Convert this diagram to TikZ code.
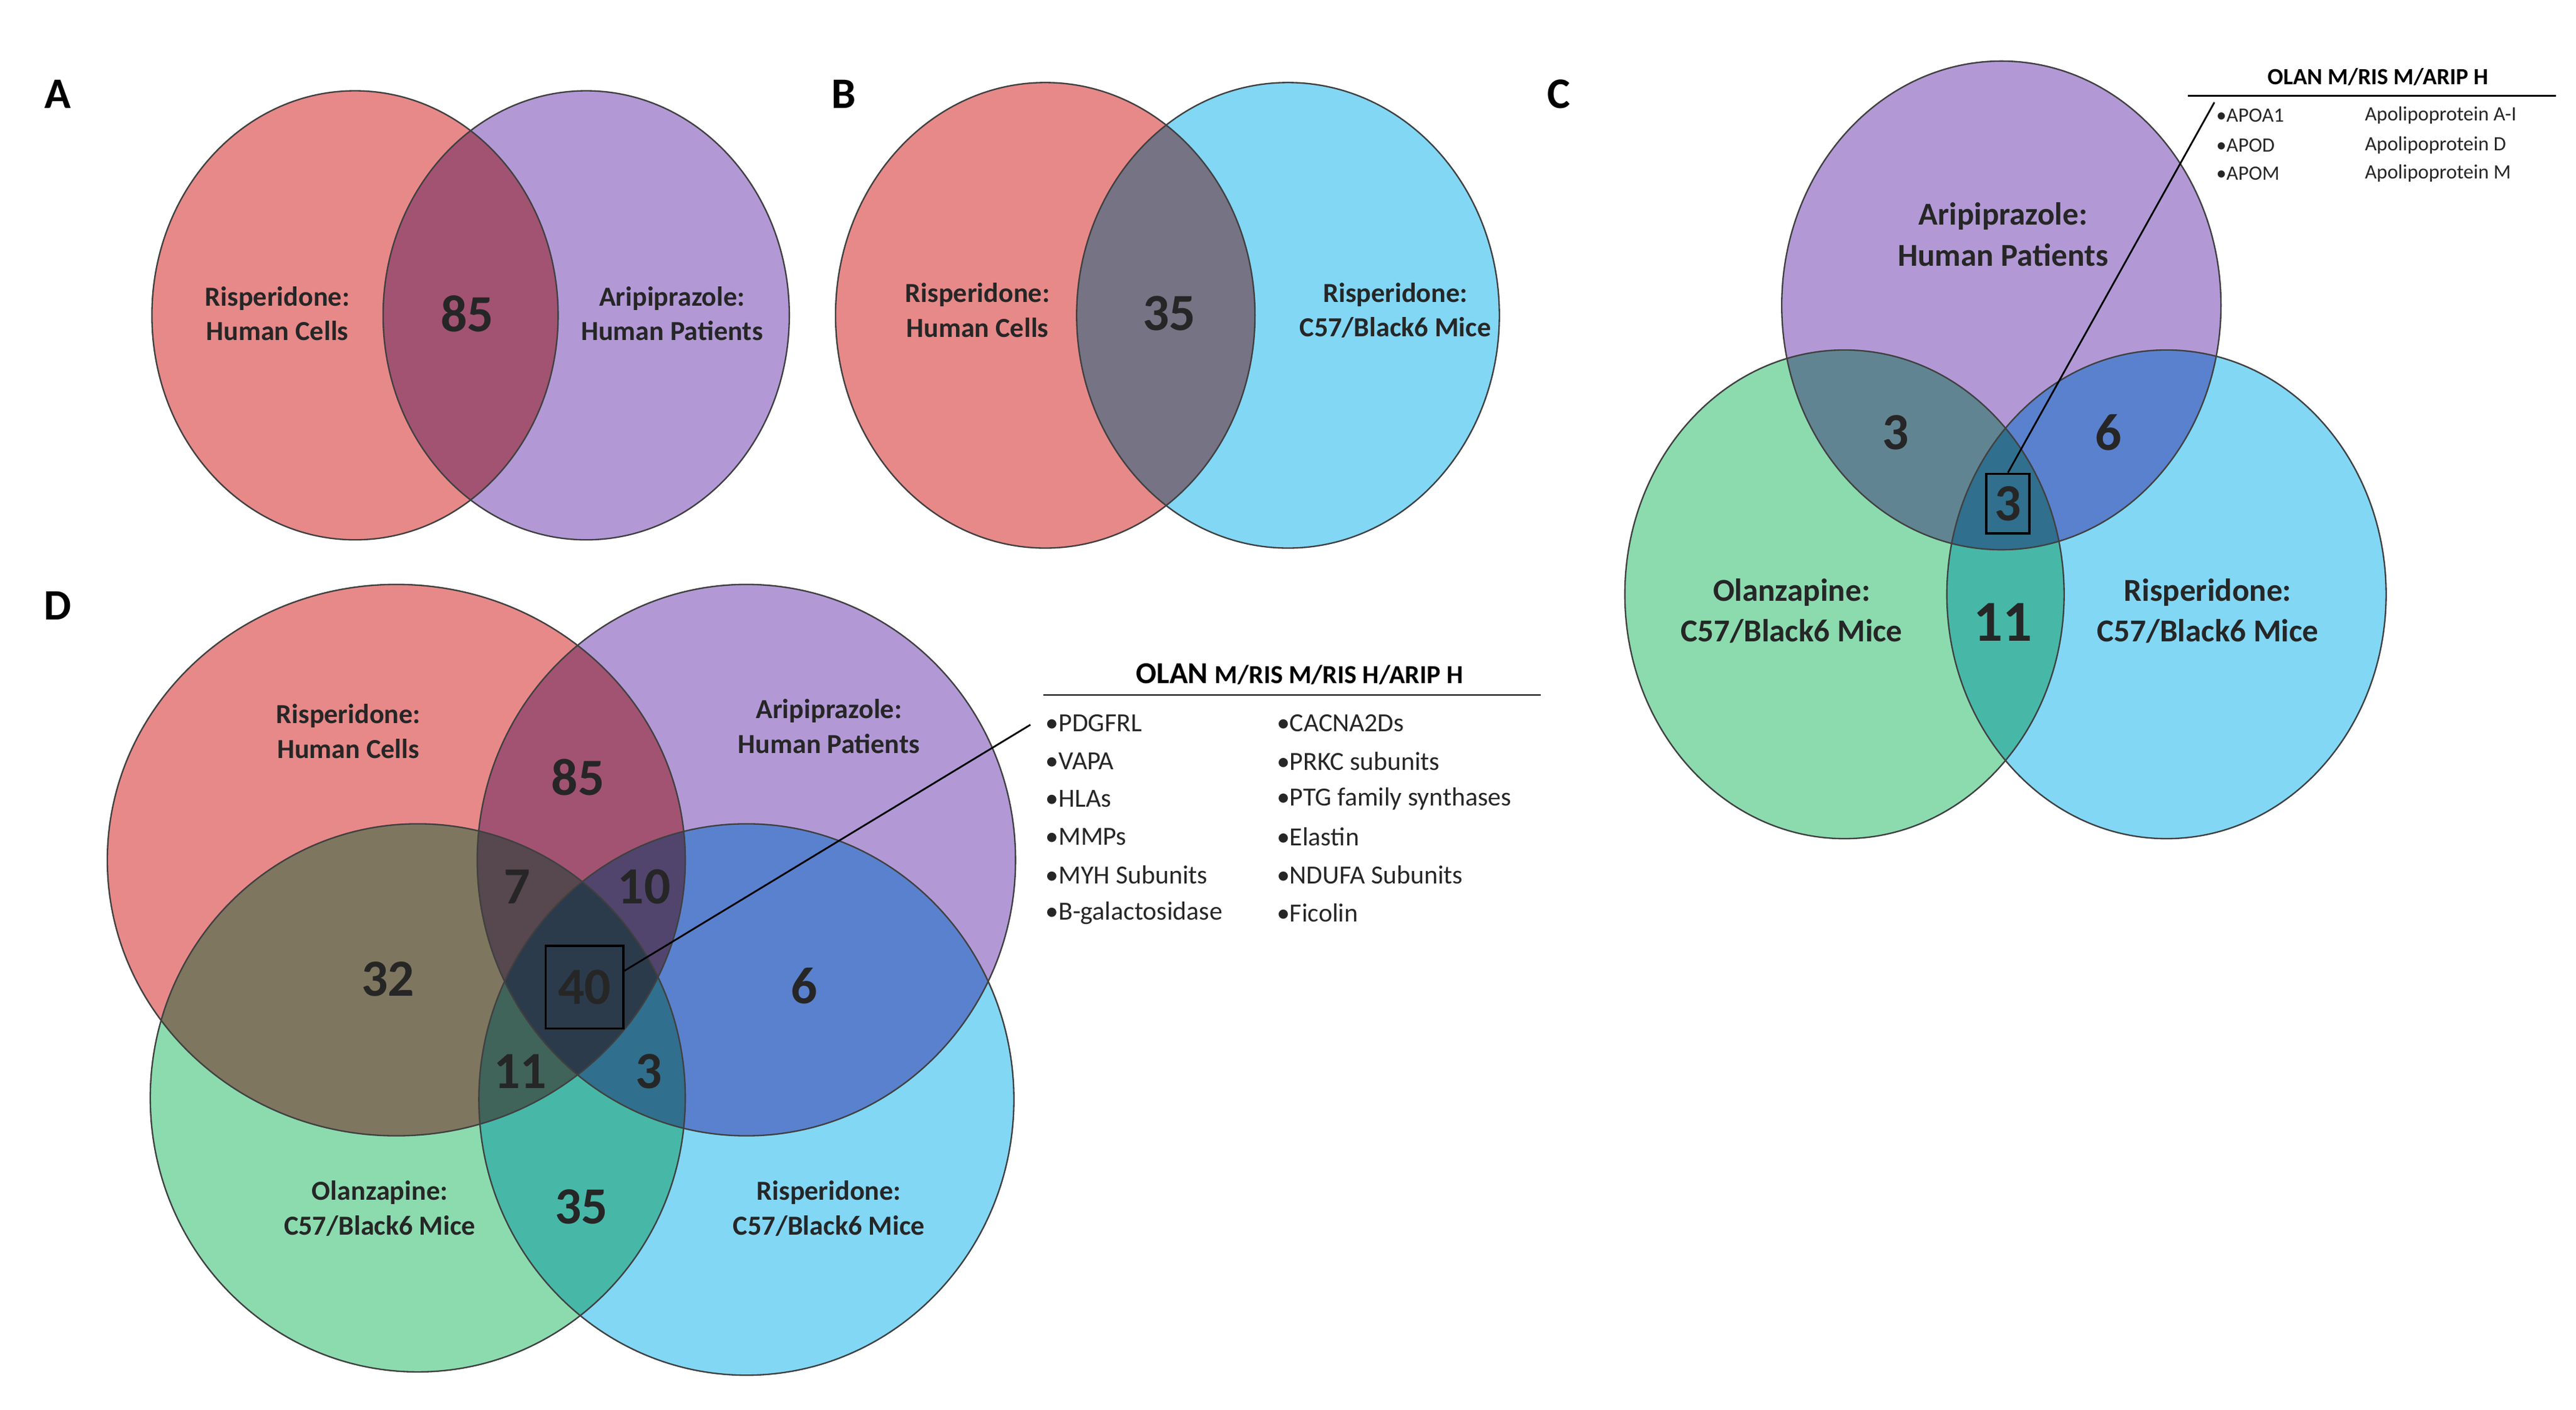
\documentclass[tikz,border=0pt]{standalone}
\usepackage{fontspec}
\setmainfont{Carlito}
\begin{document}
\definecolor{cr}{RGB}{222,88,88}
\definecolor{cp}{RGB}{146,111,197}
\definecolor{cg}{RGB}{91,205,142}
\definecolor{cb}{RGB}{77,199,242}
\begin{tikzpicture}[x=0.02cm,y=-0.02cm,
  ven/.style={draw=black!75,line width=0.5pt},
  vf/.style={fill=#1,fill opacity=0.7},
  lab/.style={font=\bfseries\fontsize{9.5}{12}\selectfont,align=center,text=black!85},
  num/.style={font=\bfseries\fontsize{18}{20}\selectfont,text=black!85},
  let/.style={font=\bfseries\fontsize{15}{16}\selectfont},
  lst/.style={font=\fontsize{9}{11}\selectfont,anchor=west,text=black!85},
  sml/.style={font=\fontsize{7}{8}\selectfont,anchor=west,text=black!85}]
\useasboundingbox (0,0) rectangle (1560,854);
\fill[white] (0,0) rectangle (1560,854);
\begin{scope}[blend group=multiply]
% A
\fill[vf=cr] (215,191) ellipse (123 and 136);
\fill[vf=cp] (355,191) ellipse (123 and 136);
% B
\fill[vf=cr] (633,191) ellipse (127 and 141);
\fill[vf=cb] (780,191) ellipse (128 and 141);
% C
\fill[vf=cp] (1212,185) ellipse (133 and 148);
\fill[vf=cg] (1117,360) ellipse (133 and 148);
\fill[vf=cb] (1312,360) ellipse (133 and 148);
% D
\fill[vf=cr] (240,521) ellipse (175 and 167);
\fill[vf=cp] (452,521) ellipse (163 and 167);
\fill[vf=cg] (253,665) ellipse (162 and 166);
\fill[vf=cb] (452,666) ellipse (162 and 167);
\end{scope}
\draw[ven] (215,191) ellipse (123 and 136);
\draw[ven] (355,191) ellipse (123 and 136);
\draw[ven] (633,191) ellipse (127 and 141);
\draw[ven] (780,191) ellipse (128 and 141);
\draw[ven] (1212,185) ellipse (133 and 148);
\draw[ven] (1117,360) ellipse (133 and 148);
\draw[ven] (1312,360) ellipse (133 and 148);
\draw[ven] (240,521) ellipse (175 and 167);
\draw[ven] (452,521) ellipse (163 and 167);
\draw[ven] (253,665) ellipse (162 and 166);
\draw[ven] (452,666) ellipse (162 and 167);
% letters
\node[let] (lA) at (35,57) {A};
\node[let] (lB) at (511,57) {B};
\node[let] (lC) at (944,57) {C};
\node[let] (lD) at (35,367) {D};
% A
\node[lab] (a1) at (168,190) {Risperidone:\\Human Cells};
\node[lab] (a2) at (407,190) {Aripiprazole:\\Human Patients};
\node[num] (a3) at (283,190) {85};
% B
\node[lab] (b1) at (592,188) {Risperidone:\\Human Cells};
\node[lab] (b2) at (845,188) {Risperidone:\\C57/Black6 Mice};
\node[num] (b3) at (708,190) {35};
% C
\node[lab,font=\bfseries\fontsize{11}{14}\selectfont] (c1) at (1213,142) {Aripiprazole:\\Human Patients};
\node[lab,font=\bfseries\fontsize{11}{14}\selectfont] (c2) at (1085,370) {Olanzapine:\\C57/Black6 Mice};
\node[lab,font=\bfseries\fontsize{11}{14}\selectfont] (c3) at (1337,370) {Risperidone:\\C57/Black6 Mice};
\node[num] (c4) at (1148,262) {3};
\node[num] (c5) at (1277,262) {6};
\node[num,font=\bfseries\fontsize{20}{22}\selectfont] (c7) at (1213,377) {11};
\node[num,draw=black,line width=0.8pt,minimum width=26*0.02cm,minimum height=36*0.02cm,inner sep=0pt] (c6) at (1216,305) {3};
\node[font=\bfseries\fontsize{8}{9}\selectfont,anchor=south] (ch) at (1440,58) {OLAN M/RIS M/ARIP H};
\coordinate (cl1) at (1325,58); \coordinate (cl2) at (1548,58);
\draw[line width=0.6pt] (cl1) -- (cl2);
\coordinate (cp) at (1341,62);
\draw[line width=0.6pt] (c6.north) -- (cp);
\node[sml] (r1) at (1336,70) {•APOA1}; \node[sml] (s1) at (1426,70) {Apolipoprotein A-I};
\node[sml] (r2) at (1336,88) {•APOD}; \node[sml] (s2) at (1426,88) {Apolipoprotein D};
\node[sml] (r3) at (1336,105) {•APOM}; \node[sml] (s3) at (1426,105) {Apolipoprotein M};
% D
\node[lab] (d1) at (211,443) {Risperidone:\\Human Cells};
\node[lab] (d2) at (502,440) {Aripiprazole:\\Human Patients};
\node[lab] (d3) at (230,732) {Olanzapine:\\C57/Black6 Mice};
\node[lab] (d4) at (502,732) {Risperidone:\\C57/Black6 Mice};
\node[num] (n85) at (350,471) {85};
\node[num] (n7) at (313,537) {7};
\node[num] (n10) at (390,537) {10};
\node[num] (n32) at (235,593) {32};
\node[num] (n6) at (487,597) {6};
\node[num] (n11) at (315,649) {11};
\node[num] (n3) at (393,649) {3};
\node[num] (n35) at (352,731) {35};
\node[num,draw=black,line width=0.8pt,minimum width=47*0.02cm,minimum height=50*0.02cm,inner sep=0pt] (n40) at (354,598) {40};
\node[anchor=south] (dh) at (787,421) {\bfseries\fontsize{10.5}{12}\selectfont OLAN \fontsize{9}{11}\selectfont M/RIS M/RIS H/ARIP H};
\coordinate (dl1) at (632,421); \coordinate (dl2) at (933,421);
\draw[line width=0.6pt] (dl1) -- (dl2);
\coordinate (dp) at (624,439);
\coordinate (n40e) at ([yshift=0.2cm]n40.east);
\draw[line width=0.6pt] (n40e) -- (dp);
\foreach \t/\y [count=\i] in {PDGFRL/438,VAPA/461,HLAs/484,MMPs/507,MYH Subunits/530,B-galactosidase/553}
  {\node[lst] (p\i) at (627,\y) {•\t};}
\foreach \t/\y [count=\i] in {CACNA2Ds/438,PRKC subunits/461,PTG family synthases/484,Elastin/507,NDUFA Subunits/530,Ficolin/553}
  {\node[lst] (q\i) at (767,\y) {•\t};}
\end{tikzpicture}
\end{document}
